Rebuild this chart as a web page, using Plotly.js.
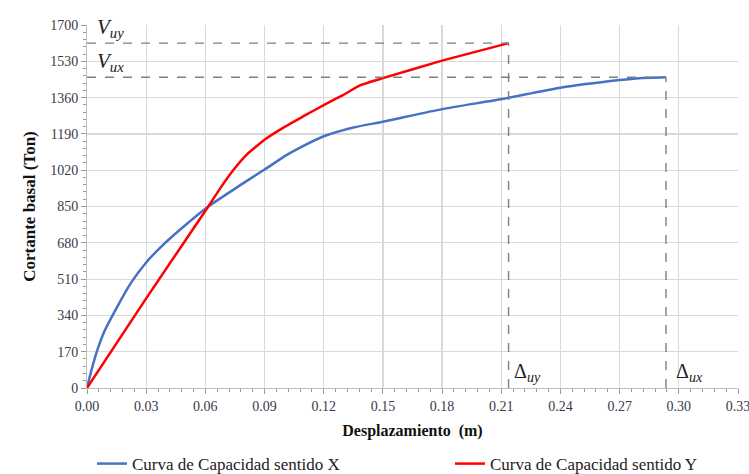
<!DOCTYPE html>
<html>
<head>
<meta charset="utf-8">
<script src="https://cdn.plot.ly/plotly-3.0.1.min.js"></script>
<style>html,body{margin:0;padding:0;background:#fff;}#chart{width:749px;height:474px;}</style>
</head>
<body>
<div id="chart"></div>
<script>
// Curva de Capacidad sentido X
const xDispX = [0, 0.0021, 0.0054, 0.0088, 0.0156, 0.0222, 0.030, 0.0374, 0.048, 0.0615, 0.0777, 0.090, 0.1013, 0.1078, 0.120, 0.1355, 0.150, 0.180, 0.2096, 0.240, 0.270, 0.280, 0.2935];
const xShearX = [0, 78, 182, 265, 385, 491, 588, 660, 748, 850, 950, 1023, 1092, 1125, 1179, 1221, 1247, 1306, 1352, 1406, 1442, 1451, 1455];
// Curva de Capacidad sentido Y
const yDispY = [0, 0.030, 0.0615, 0.0675, 0.0743, 0.081, 0.090, 0.100, 0.110, 0.120, 0.130, 0.1386, 0.150, 0.180, 0.2137];
const yShearY = [0, 420, 850, 935, 1022, 1093, 1163, 1222, 1274, 1325, 1373, 1418, 1451, 1533, 1615];

const xTicks = [0, 0.03, 0.06, 0.09, 0.12, 0.15, 0.18, 0.21, 0.24, 0.27, 0.30, 0.33];
const xTickText = ["0.00","0.03","0.06","0.09","0.12","0.15","0.18","0.21","0.24","0.27","0.30","0.33"];
const yTicks = [0, 170, 340, 510, 680, 850, 1020, 1190, 1360, 1530, 1700];

const Vux = 1455, Vuy = 1615, Dux = 0.2935, Duy = 0.2137;

const serif = "Liberation Serif, Times New Roman, serif";
const dashColor = "#7f7f7f";

const traces = [
  {x: xDispX, y: xShearX, mode: "lines", name: "Curva de Capacidad sentido X", legend: "legend",
   line: {color: "#4472c4", width: 2.5, shape: "spline", smoothing: 0.5}},
  {x: yDispY, y: yShearY, mode: "lines", name: "Curva de Capacidad sentido Y", legend: "legend2",
   line: {color: "#ff0000", width: 2.5, shape: "spline", smoothing: 0.4}}
];

const legendBase = {orientation: "h", xref: "container", yref: "container", xanchor: "left", yanchor: "middle",
                    y: 0.021, font: {family: serif, size: 17, color: "#222"}, bgcolor: "rgba(0,0,0,0)"};

const layout = {
  width: 749, height: 474,
  margin: {l: 87, r: 11, t: 25, b: 86},
  paper_bgcolor: "#fff", plot_bgcolor: "#fff",
  font: {family: serif, color: "#333"},
  showlegend: true,
  legend: Object.assign({}, legendBase, {x: 0.1228}),
  legend2: Object.assign({}, legendBase, {x: 0.6008}),
  xaxis: {range: [0, 0.33], tickvals: xTicks, ticktext: xTickText, ticklabeloverflow: "allow",
          showgrid: true, gridcolor: "#d9d9d9", gridwidth: 1.2,
          zeroline: false, showline: true, linecolor: "#bfbfbf", linewidth: 1,
          ticks: "outside", ticklen: 5, tickcolor: "#999",
          minor: {dtick: 0.006, tick0: 0, ticks: "outside", ticklen: 3, tickcolor: "#999", showgrid: false},
          tickfont: {family: serif, size: 14, color: "#3a3a4a"},
          title: {text: "<b>Desplazamiento  (m)</b>", font: {family: serif, size: 16, color: "#111"}, standoff: 12}},
  yaxis: {range: [0, 1700], tickvals: yTicks,
          showgrid: true, gridcolor: "#d9d9d9", gridwidth: 1.2,
          zeroline: false, showline: true, linecolor: "#bfbfbf", linewidth: 1,
          ticks: "outside", ticklen: 5, tickcolor: "#999",
          minor: {dtick: 34, tick0: 0, ticks: "outside", ticklen: 3, tickcolor: "#999", showgrid: false},
          tickfont: {family: serif, size: 14, color: "#3a3a4a"},
          title: {text: "<b>Cortante basal (Ton)</b>", font: {family: serif, size: 17, color: "#111"}, standoff: 10}},
  shapes: [
    {type: "line", xref: "x", yref: "y", x0: 0, x1: Duy, y0: Vuy, y1: Vuy, line: {color: dashColor, width: 1.4, dash: "dash"}},
    {type: "line", xref: "x", yref: "y", x0: Duy, x1: Duy, y0: 0, y1: Vuy, line: {color: dashColor, width: 1.4, dash: "dash"}},
    {type: "line", xref: "x", yref: "y", x0: 0, x1: Dux, y0: Vux, y1: Vux, line: {color: dashColor, width: 1.4, dash: "dash"}},
    {type: "line", xref: "x", yref: "y", x0: Dux, x1: Dux, y0: 0, y1: Vux, line: {color: dashColor, width: 1.4, dash: "dash"}}
  ],
  annotations: [
    {xref: "x", yref: "y", x: 0.004, y: Vuy, yshift: 0, xanchor: "left", yanchor: "bottom", showarrow: false,
     text: "<i>V<sub>uy</sub></i>", font: {family: serif, size: 21, color: "#222"}},
    {xref: "x", yref: "y", x: 0.004, y: Vux, yshift: 0, xanchor: "left", yanchor: "bottom", showarrow: false,
     text: "<i>V<sub>ux</sub></i>", font: {family: serif, size: 21, color: "#222"}},
    {xref: "x", yref: "y", x: Duy, y: 0, xshift: 3, yshift: 1, xanchor: "left", yanchor: "bottom", showarrow: false,
     text: "Δ<sub><i>uy</i></sub>", font: {family: serif, size: 20, color: "#222"}},
    {xref: "x", yref: "y", x: Dux, y: 0, xshift: 8, yshift: 1, xanchor: "left", yanchor: "bottom", showarrow: false,
     text: "Δ<sub><i>ux</i></sub>", font: {family: serif, size: 20, color: "#222"}}
  ]
};

Plotly.newPlot("chart", traces, layout, {displayModeBar: false, staticPlot: true});
</script>
</body>
</html>
